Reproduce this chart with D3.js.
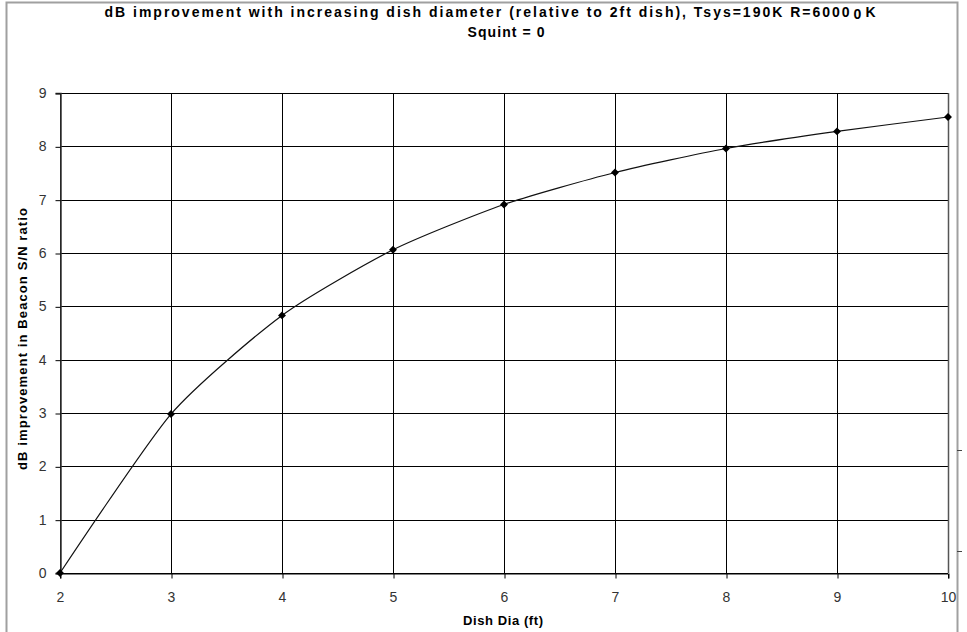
<!DOCTYPE html>
<html lang="en">
<head>
    <meta charset="UTF-8">
    <title>dB improvement vs dish diameter</title>
    <script src="https://d3js.org/d3.v7.min.js"></script>
    <style>
        html, body {
            margin: 0;
            padding: 0;
            background: #fff;
        }
        svg {
            display: block;
            font-family: "Liberation Sans", Arial, sans-serif;
        }
        .grid line {
            stroke: #000;
            stroke-width: 1;
        }
        .tick text {
            font-size: 14px;
            fill: #333;
        }
    </style>
</head>
<body>
    <svg id="chart" width="967" height="632"></svg>

    <script>
        // chart data
        var diameters = [2, 3, 4, 5, 6, 7, 8, 9, 10];
        var dbGain = [0, 2.98, 4.83, 6.06, 6.91, 7.51, 7.96, 8.28, 8.55];
        var xTicks = [2, 3, 4, 5, 6, 7, 8, 9, 10];
        var yTicks = [0, 1, 2, 3, 4, 5, 6, 7, 8, 9];

        var margin = {top: 93, right: 19, bottom: 59, left: 60},
            width = 967 - margin.left - margin.right,
            height = 632 - margin.top - margin.bottom;

        var svg = d3.select("#chart");

        // outer chart border
        svg.append("rect")
            .attr("x", 6.5)
            .attr("y", 2.5)
            .attr("width", 951)
            .attr("height", 640)
            .attr("fill", "none")
            .attr("stroke", "#a0a0a0")
            .attr("stroke-width", 2);

        // stray tick marks near the right edge
        svg.selectAll(".stray")
            .data([450, 551])
            .enter().append("line")
            .attr("x1", 957).attr("x2", 962)
            .attr("y1", function(d) { return d + 0.5; })
            .attr("y2", function(d) { return d + 0.5; })
            .attr("stroke", "#444");

        var g = svg.append("g")
            .attr("transform", "translate(" + margin.left + "," + margin.top + ")");

        var x = d3.scaleLinear().domain([2, 10]).range([0, width]);
        var y = d3.scaleLinear().domain([0, 9]).range([height, 0]);

        // gridlines
        g.append("g").attr("class", "grid")
            .selectAll("line.h")
            .data(yTicks)
            .enter().append("line")
            .attr("x1", 0).attr("x2", width)
            .attr("y1", function(d) { return Math.round(y(d)) + 0.5; })
            .attr("y2", function(d) { return Math.round(y(d)) + 0.5; });

        g.append("g").attr("class", "grid")
            .selectAll("line.v")
            .data(xTicks)
            .enter().append("line")
            .attr("y1", 0).attr("y2", height)
            .attr("x1", function(d) { return Math.round(x(d)) + 0.5; })
            .attr("x2", function(d) { return Math.round(x(d)) + 0.5; });

        // axes
        var yAxis = g.append("g")
            .attr("transform", "translate(0.5,0)")
            .call(d3.axisLeft(y).tickValues(yTicks).tickSize(5).tickPadding(9).tickFormat(d3.format("d")));
        yAxis.select(".domain").attr("stroke", "#333").attr("stroke-width", 1.5);
        yAxis.selectAll(".tick line").attr("stroke", "#000").attr("transform", "translate(0,0.5)");

        var xAxis = g.append("g")
            .attr("transform", "translate(0," + (height + 0.5) + ")")
            .call(d3.axisBottom(x).tickValues(xTicks).tickSize(5).tickPadding(14).tickFormat(d3.format("d")));
        xAxis.select(".domain").attr("stroke", "#000");
        xAxis.selectAll(".tick line").attr("stroke", "#000").attr("transform", "translate(0.5,0)");

        // right border of plot area
        g.append("line")
            .attr("x1", width + 0.5).attr("x2", width + 0.5)
            .attr("y1", 0).attr("y2", height)
            .attr("stroke", "#555").attr("stroke-width", 1.5);

        // smoothed series line
        var points = diameters.map(function(d, i) { return [d, dbGain[i]]; });

        var line = d3.line()
            .x(function(d) { return x(d[0]); })
            .y(function(d) { return y(d[1]); })
            .curve(d3.curveCardinal.tension(0.35));

        g.append("path")
            .datum(points)
            .attr("fill", "none")
            .attr("stroke", "#111")
            .attr("stroke-width", 1.2)
            .attr("d", line);

        // diamond markers
        g.selectAll(".marker")
            .data(points)
            .enter().append("path")
            .attr("class", "marker")
            .attr("transform", function(d) { return "translate(" + x(d[0]) + "," + y(d[1]) + ")"; })
            .attr("d", d3.symbol().type(d3.symbolDiamond2).size(40))
            .attr("fill", "#000");

        // titles
        var title = svg.append("text")
            .attr("x", 490)
            .attr("y", 17)
            .attr("text-anchor", "middle")
            .attr("font-size", "14px")
            .attr("font-weight", "bold")
            .attr("textLength", 771)
            .attr("lengthAdjust", "spacing");
        title.append("tspan").text("dB improvement with increasing dish diameter (relative to 2ft dish), Tsys=190K R=6000");
        title.append("tspan").attr("dx", 2).attr("dy", 2).text("0");
        title.append("tspan").attr("dx", 2).attr("dy", -2).text("K");

        svg.append("text")
            .attr("x", 506)
            .attr("y", 37)
            .attr("text-anchor", "middle")
            .attr("font-size", "14px")
            .attr("font-weight", "bold")
            .attr("textLength", 77)
            .attr("lengthAdjust", "spacing")
            .text("Squint = 0");

        svg.append("text")
            .attr("x", 503)
            .attr("y", 625)
            .attr("text-anchor", "middle")
            .attr("font-size", "13px")
            .attr("font-weight", "bold")
            .attr("textLength", 80)
            .attr("lengthAdjust", "spacing")
            .text("Dish Dia (ft)");

        svg.append("text")
            .attr("transform", "translate(27,339) rotate(-90)")
            .attr("text-anchor", "middle")
            .attr("font-size", "13px")
            .attr("font-weight", "bold")
            .attr("textLength", 262)
            .attr("lengthAdjust", "spacing")
            .text("dB improvement in Beacon S/N ratio");
    </script>
</body>
</html>
